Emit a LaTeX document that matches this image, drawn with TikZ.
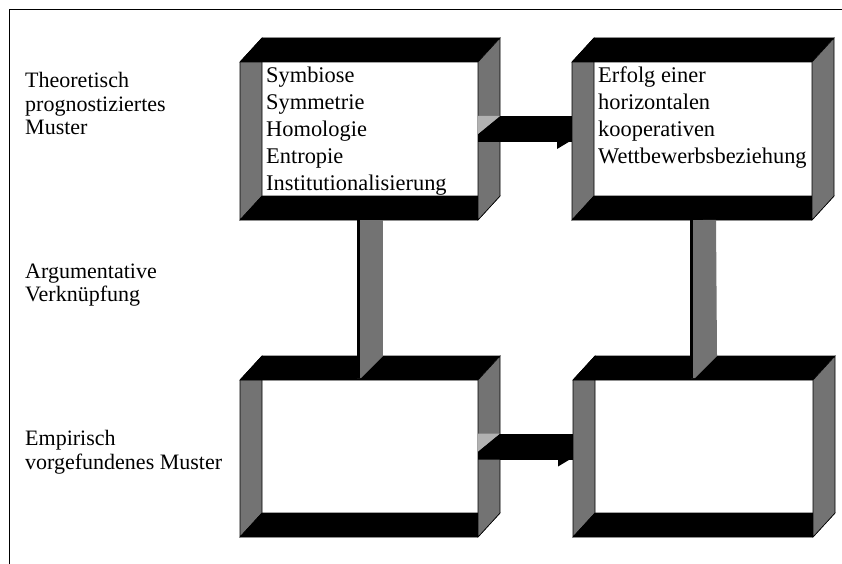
\documentclass[tikz,border=0pt]{standalone}
\usepackage{fontspec}
\setmainfont{Liberation Serif}
\usepackage{tikz}

\colorlet{wallgray}{black!55}
\tikzset{
  wall/.style={fill=wallgray, draw=black, line width=0.6pt},
  band/.style={fill=black, draw=black, line width=0.6pt},
  sidelabel/.style={anchor=north west, inner sep=0pt, align=left, font=\fontsize{22}{23.5}\selectfont},
  boxtext/.style={anchor=north west, inner sep=0pt, align=left, font=\fontsize{22.4}{27}\selectfont},
}

\begin{document}
\begin{tikzpicture}[x=1pt, y=-1pt, line join=miter]
  \fill[white] (0,0) rectangle (842,564);
  \useasboundingbox (0,0) rectangle (842,564);
  \draw[line width=1.4pt] (842,9.5) -- (9.5,9.5) -- (9.5,564);

  % hollow boxes, front face from (xa,ya) to (xb,yb)
  \foreach \xa/\ya/\xb/\yb/\n in {240/62/478/220/tl, 572/62/812/220/tr, 240/380/478/537/bl, 573/380/813/537/br} {
    \draw[wall] (\xa,\ya) -- ++(22,-24) -- (\xa+22,\yb-24) -- (\xa,\yb) -- cycle;
    \draw[band] (\xa,\ya) -- ++(22,-24) -- (\xb+22,\ya-24) -- (\xb,\ya) -- cycle;
    \draw[band] (\xa,\yb) -- ++(22,-24) -- (\xb+22,\yb-24) -- (\xb,\yb) -- cycle;
    \draw[wall] (\xb,\ya) -- ++(22,-24) -- (\xb+22,\yb-24) -- (\xb,\yb) -- cycle;
    \coordinate (\n) at (\xa,\ya);
    \coordinate (\n-e) at (\xb,{(\ya+\yb-24)/2});
    \coordinate (\n-w) at (\xa,{(\ya+\yb-24)/2});
    \coordinate (\n-s) at ({(\xa+\xb+22)/2},\yb);
    \coordinate (\n-n) at ({(\xa+\xb+22)/2},\ya-24);
  }

  % horizontal block arrows
  \foreach \a/\b in {tl/tr, bl/br} {
    \fill (\a-e) ++(0,5) -- ++(22,-18) -- ++(0,26) -- ++(-22,0) -- cycle;
    \fill[black!30] (\a-e) ++(0,-13) -- ++(22,0) -- ++(-22,18) -- cycle;
    \draw[line width=26pt] ([xshift=22pt]\a-e) -- (\b-w);
    \fill (\b-w) ++(-15,13) -- ++(0,7) -- ++(15,-9) -- cycle;
  }

  % vertical block arrows
  \foreach \a/\b in {tl/bl, tr/br} {
    \draw[line width=26pt, wallgray] (\a-s) -- (\b-n);
    \fill[wallgray] (\b-n) ++(13,0) -- ++(-22,22) -- ++(-4,0) -- ++(0,-22) -- cycle;
    \draw[line width=3pt] (\a-s) ++(-11.5,0) -- ++(0,158);
  }

  \node[sidelabel] (theo) at (25,72.5) {Theoretisch\\prognostiziertes\\Muster};
  \node[sidelabel] (arg) at (25,263.5) {Argumentative\\Verknüpfung};
  \node[sidelabel] (emp) at (25,430.5) {Empirisch\\vorgefundenes Muster};
  \node[boxtext] (tltext) at ([shift={(26,4.5)}]tl) {Symbiose\\Symmetrie\\Homologie\\Entropie\\Institutionalisierung};
  \node[boxtext] (trtext) at ([shift={(26,4.5)}]tr) {Erfolg einer\\horizontalen\\kooperativen\\Wettbewerbsbeziehung};
\end{tikzpicture}
\end{document}
